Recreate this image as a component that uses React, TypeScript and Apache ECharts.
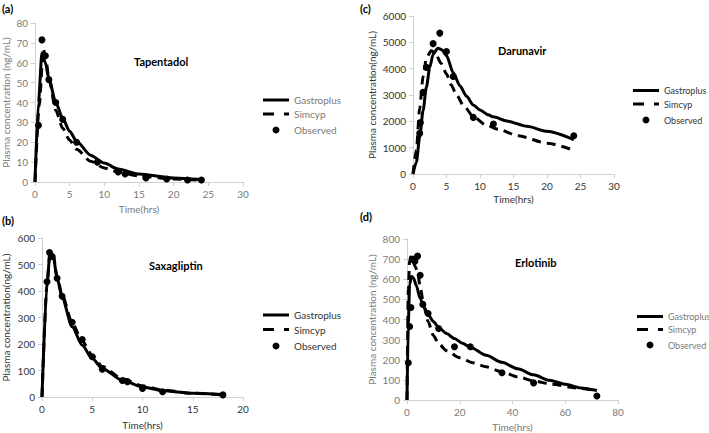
import React, { useEffect, useRef } from 'react';
import * as echarts from 'echarts';

// ---------- data ----------
const seriesNames = ['Gastroplus', 'Simcyp', 'Observed'];

const tapentadolGastroplus: number[][] = [[0,0],[0.5,40],[1,65],[1.5,60],[2,52],[3,40],[4,32],[5,25.5],[6,20.5],[8,13.5],[10,9.5],[12,6.5],[15,4],[20,2],[24,1.2]];
const tapentadolSimcyp: number[][] = [[0,0],[0.6,38],[1.2,67],[1.6,61],[2,52],[3,36],[4,27],[5,21],[6,16.5],[8,10.5],[10,7],[12,5],[15,3],[20,1.5],[24,0.9]];
const tapentadolObserved: number[][] = [[0.5,28.5],[1,71.5],[1.5,63.5],[2,51.5],[3,40],[4,31.5],[6,20],[9,10],[12,5],[13,4],[16,2],[19,1.5],[22,1],[24,1]];

const saxagliptinGastroplus: number[][] = [[0,0],[0.5,430],[0.8,545],[1.1,535],[1.5,450],[2,375],[3,265],[4,195],[5,145],[6,108],[8,63],[10,38],[12,24],[15,14],[18,9]];
const saxagliptinSimcyp: number[][] = [[0,0],[0.5,425],[0.8,548],[1.1,540],[1.5,455],[2,385],[3,280],[4,210],[5,158],[6,115],[8,68],[10,42],[12,26],[15,14],[18,8]];
const saxagliptinObserved: number[][] = [[0.5,435],[0.75,545],[1,530],[1.5,448],[2,380],[3,282],[4,217],[5,152],[6,105],[8,62],[8.5,58],[10,32],[12,20],[18,8]];

const darunavirGastroplus: number[][] = [[0,0],[0.5,450],[1,1400],[1.5,2400],[2,3300],[2.5,4050],[3,4550],[3.7,4780],[4.3,4720],[5,4500],[6,3850],[7,3350],[8,2950],[9,2620],[10,2430],[11.2,2250],[12,2170],[14,2010],[17,1810],[20,1620],[24,1300]];
const darunavirSimcyp: number[][] = [[0,0],[0.5,900],[1,2500],[1.5,3700],[2,4400],[2.7,4680],[3.3,4600],[4.2,4200],[5,3800],[5.7,3380],[6.5,3000],[7.5,2620],[9,2180],[10.9,1860],[12.7,1700],[15.7,1450],[20,1170],[24,900]];
const darunavirObserved: number[][] = [[1,1550],[1.1,1950],[1.5,3100],[2,4050],[3,4950],[4,5350],[5,4650],[6,3700],[9,2150],[12,1900],[24,1450]];

const erlotinibGastroplus: number[][] = [[0,0],[0.5,380],[1,575],[1.7,615],[2.5,605],[3.5,570],[5,505],[6.5,460],[8,425],[10,390],[12,360],[15,330],[18,305],[21,282],[24,262],[30,222],[36,187],[42,155],[48,125],[54,98],[60,78],[66,60],[72,47]];
const erlotinibSimcyp: number[][] = [[0,0],[0.5,550],[1,695],[1.6,715],[2.3,690],[3,665],[4,640],[5,560],[6.5,460],[8,390],[10,320],[12,280],[15,245],[20,210],[25,185],[30,165],[36,140],[42,115],[48,95],[55,78],[64,60],[72,46]];
const erlotinibObserved: number[][] = [[0.5,185],[1,365],[1.5,460],[2,700],[3,690],[4,715],[5,620],[6,475],[8,430],[12,355],[18,265],[24,265],[36,135],[48,85],[72,20]];

// ---------- layout / style ----------
const FONT = 'Lato';
const ICON_SOLID = 'path://M0,0h26v3h-26z';
const ICON_DASH = 'path://M0,0h11v3h-11zM21,0h5v3h-5z';
const ICON_DOT = 'path://M0,0h0.05v0.05h-0.05zM25.95,13.95h0.05v0.05h-0.05zM16.5,7L16.03,8.75L14.75,10.03L13,10.5L11.25,10.03L9.97,8.75L9.5,7L9.97,5.25L11.25,3.97L13,3.5L14.75,3.97L16.03,5.25z';

type Panel = {
  tag: string; drug: string; yName: string;
  grid: { left: number; top: number; width: number; height: number };
  xMax: number; xInt: number; yMax: number; yInt: number;
  yGap: number; xGap: number;
  titleX: number; titleY: number; tagY: number; tagX: number;
  legendX: number; legendY: number; legendGap: number; legendFont: number;
  color: string;
  data: number[][][];
};

const panels: Panel[] = [
  { tag: '(a)', drug: 'Tapentadol', yName: 'Plasma concentration (ng/mL)',
    grid: { left: 33, top: 23, width: 210, height: 159 },
    xMax: 30, xInt: 5, yMax: 80, yInt: 10, yGap: 24, xGap: 22,
    titleX: 134, titleY: 56, tagX: 2, tagY: 3,
    legendX: 263, legendY: 95, legendGap: 4, legendFont: 10, color: '#7a7a7a',
    data: [tapentadolGastroplus, tapentadolSimcyp, tapentadolObserved] },
  { tag: '(b)', drug: 'Saxagliptin', yName: 'Plasma concentration(ng/mL)',
    grid: { left: 38, top: 238, width: 205, height: 159 },
    xMax: 20, xInt: 5, yMax: 600, yInt: 100, yGap: 31, xGap: 23,
    titleX: 149, titleY: 260, tagX: 2, tagY: 215,
    legendX: 263, legendY: 310, legendGap: 4.5, legendFont: 10, color: '#333333',
    data: [saxagliptinGastroplus, saxagliptinSimcyp, saxagliptinObserved] },
  { tag: '(c)', drug: 'Darunavir', yName: 'Plasma concentration(ng/mL)',
    grid: { left: 413, top: 16, width: 201, height: 158 },
    xMax: 30, xInt: 5, yMax: 6000, yInt: 1000, yGap: 36, xGap: 20,
    titleX: 498, titleY: 45, tagX: 360, tagY: 3,
    legendX: 633, legendY: 86, legendGap: 4.5, legendFont: 9, color: '#333333',
    data: [darunavirGastroplus, darunavirSimcyp, darunavirObserved] },
  { tag: '(d)', drug: 'Erlotinib', yName: 'Plasma concentration (ng/mL)',
    grid: { left: 407, top: 239, width: 211, height: 161 },
    xMax: 80, xInt: 20, yMax: 800, yInt: 100, yGap: 30, xGap: 22,
    titleX: 515, titleY: 257, tagX: 360, tagY: 211,
    legendX: 637, legendY: 312, legendGap: 4, legendFont: 9, color: '#7a7a7a',
    data: [erlotinibGastroplus, erlotinibSimcyp, erlotinibObserved] },
];

function buildOption() {
  const grid: any[] = [];
  const xAxis: any[] = [];
  const yAxis: any[] = [];
  const series: any[] = [];
  const legend: any[] = [];
  const title: any[] = [];

  panels.forEach((p, i) => {
    grid.push({ ...p.grid, containLabel: false });
    const axisLine = { show: true, lineStyle: { color: '#d0d0d0', width: 1 } };
    const axisTick = { show: true, length: 4, lineStyle: { color: '#d0d0d0' } };
    const axisLabel = { color: p.color, fontFamily: FONT, fontSize: 10, margin: 7, formatter: (v: number) => String(v) };
    xAxis.push({
      type: 'value', gridIndex: i, min: 0, max: p.xMax, interval: p.xInt,
      axisLine, axisTick, splitLine: { show: false }, axisLabel,
      name: 'Time(hrs)', nameLocation: 'middle', nameGap: p.xGap,
      nameTextStyle: { color: p.color, fontFamily: FONT, fontSize: 10 },
    });
    yAxis.push({
      type: 'value', gridIndex: i, min: 0, max: p.yMax, interval: p.yInt,
      axisLine, axisTick, splitLine: { show: false }, axisLabel,
      name: p.yName, nameLocation: 'middle', nameGap: p.yGap,
      nameTextStyle: { color: p.color, fontFamily: FONT, fontSize: 10 },
    });
    series.push({
      name: seriesNames[0], type: 'line', xAxisIndex: i, yAxisIndex: i,
      data: p.data[0], smooth: 0.25, smoothMonotone: 'x', showSymbol: false, symbol: 'none',
      lineStyle: { color: '#000', width: 3 }, itemStyle: { color: '#000' }, z: 2,
    });
    series.push({
      name: seriesNames[1], type: 'line', xAxisIndex: i, yAxisIndex: i,
      data: p.data[1], smooth: 0.25, smoothMonotone: 'x', showSymbol: false, symbol: 'none',
      lineStyle: { color: '#000', width: 3, type: [9, 6] }, itemStyle: { color: '#000' }, z: 2,
    });
    series.push({
      name: seriesNames[2], type: 'scatter', xAxisIndex: i, yAxisIndex: i,
      data: p.data[2], symbol: 'circle', symbolSize: 7,
      itemStyle: { color: '#000', opacity: 1 }, z: 3,
    });
    legend.push({
      orient: 'vertical', left: p.legendX, top: p.legendY, padding: 0,
      itemWidth: 26, itemHeight: 14, itemGap: p.legendGap, selectedMode: false,
      symbolKeepAspect: true,
      data: [
        { name: seriesNames[0], icon: ICON_SOLID, itemStyle: { color: '#000' } },
        { name: seriesNames[1], icon: ICON_DASH, itemStyle: { color: '#000' } },
        { name: seriesNames[2], icon: ICON_DOT, itemStyle: { color: '#000', opacity: 1 } },
      ],
      textStyle: { color: p.color, fontFamily: FONT, fontSize: p.legendFont },
    });
    title.push({
      text: p.tag, left: p.tagX, top: p.tagY, padding: 0,
      textStyle: { color: '#000', fontFamily: FONT, fontSize: 11, fontWeight: 'bold' },
    });
    title.push({
      text: p.drug, left: p.titleX, top: p.titleY, padding: 0,
      textStyle: { color: '#000', fontFamily: FONT, fontSize: 11, fontWeight: 'bold' },
    });
  });

  return {
    animation: false,
    backgroundColor: '#ffffff',
    textStyle: { fontFamily: FONT },
    title, grid, xAxis, yAxis, series, legend,
  };
}

export default function App() {
  const ref = useRef<HTMLDivElement>(null);
  useEffect(() => {
    if (!ref.current) return;
    const chart = echarts.init(ref.current, undefined, { renderer: 'svg' });
    chart.setOption(buildOption());
    return () => chart.dispose();
  }, []);
  return (
    <div
      ref={ref}
      style={{ position: 'fixed', left: 0, top: 0, width: 709, height: 433, background: '#fff' }}
    />
  );
}
